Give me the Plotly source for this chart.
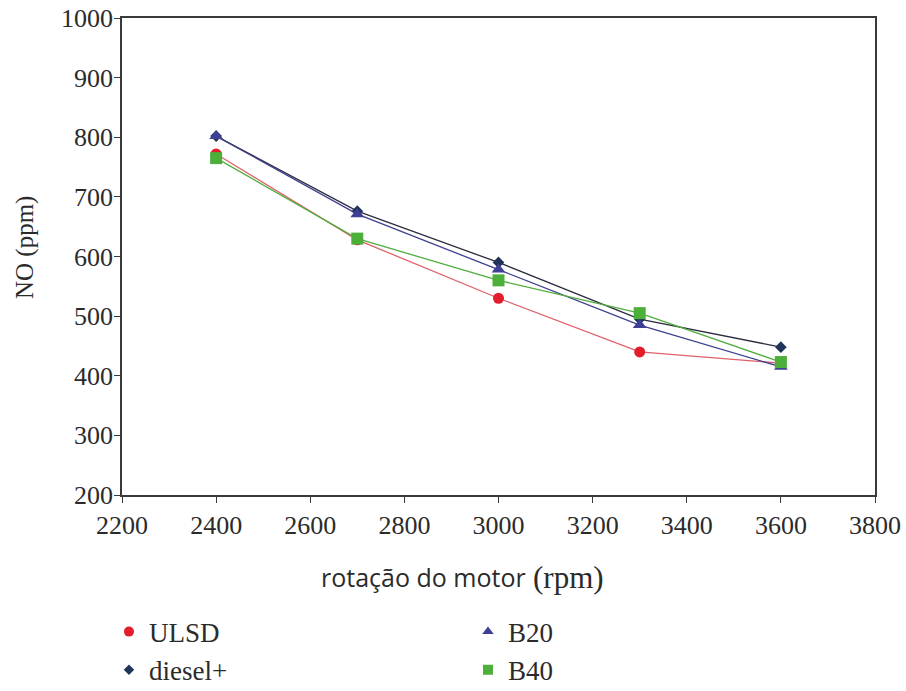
import plotly.graph_objects as go

# Engine speed (rpm)
rpm = [2400, 2700, 3000, 3300, 3600]

# NO emissions (ppm) per fuel
ulsd = [772, 628, 530, 440, 421]
diesel_plus = [802, 676, 590, 495, 448]
b20 = [802, 671, 578, 485, 415]
b40 = [765, 630, 560, 505, 423]

x_ticks = [2200, 2400, 2600, 2800, 3000, 3200, 3400, 3600, 3800]
y_ticks = [200, 300, 400, 500, 600, 700, 800, 900, 1000]

x_title_main = "rotação do motor"
x_title_unit = "(rpm)"
y_title = "NO (ppm)"

SERIF = "Liberation Serif, Times New Roman, serif"
SANS = "Open Sans, sans-serif"
TEXT = "#2b2b2b"

series = [
    # name, values, line colour, marker colour, symbol, size, legend size, legend rank
    ("ULSD", ulsd, "#e0606a", "#e31d2b", "circle", 11, 10, 1),
    ("diesel+", diesel_plus, "#2b2d3f", "#1f3558", "diamond", 9, 8, 3),
    ("B20", b20, "#3d418c", "#3e3f95", "triangle-up", 12, 10, 2),
    ("B40", b40, "#4fae3e", "#4caf3a", "square", 12, 10, 4),
]

fig = go.Figure()
for name, vals, lc, mc, sym, size, lsize, rank in series:
    fig.add_trace(go.Scatter(
        x=rpm, y=vals, name=name, mode="lines+markers",
        line=dict(color=lc, width=1.3),
        marker=dict(color=mc, symbol=sym, size=size, line=dict(width=0)),
        showlegend=False,
    ))
# legend entries show the marker only
for name, vals, lc, mc, sym, size, lsize, rank in series:
    fig.add_trace(go.Scatter(
        x=[None], y=[None], name=name, mode="markers",
        marker=dict(color=mc, symbol=sym, size=lsize, line=dict(width=0)),
        legendrank=rank, showlegend=True,
    ))

axis_common = dict(
    showline=True, linecolor="#3a3a3a", linewidth=1.6, mirror=True,
    ticks="outside", ticklen=6, tickwidth=1.3, tickcolor="#3a3a3a",
    showgrid=False, zeroline=False,
    tickfont=dict(family=SERIF, size=26, color=TEXT),
)

fig.update_xaxes(
    range=[2200, 3800], tickvals=x_ticks, ticktext=[str(v) for v in x_ticks],
    **axis_common,
)
fig.update_yaxes(
    range=[200, 1000], tickvals=y_ticks, ticktext=[str(v) for v in y_ticks],
    ticklabelstandoff=-4,
    **axis_common,
)

# axis titles: sans text with a serif unit on x, serif on y
fig.add_annotation(
    text=x_title_main, xref="paper", yref="paper", x=0.539, y=-0.172,
    xanchor="right", yanchor="middle", showarrow=False,
    font=dict(family=SANS, size=25, color=TEXT),
)
fig.add_annotation(
    text=x_title_unit, xref="paper", yref="paper", x=0.543, y=-0.172,
    xanchor="left", yanchor="middle", showarrow=False,
    font=dict(family=SERIF, size=31, color=TEXT),
)
fig.add_annotation(
    text=y_title, xref="paper", yref="paper", x=-0.128, y=0.519,
    xanchor="center", yanchor="middle", textangle=-90, showarrow=False,
    font=dict(family=SERIF, size=25, color=TEXT),
)

fig.update_layout(
    width=906, height=691,
    margin=dict(l=122, r=31, t=18, b=196, autoexpand=False),
    paper_bgcolor="white", plot_bgcolor="white",
    showlegend=True,
    legend=dict(
        orientation="h", x=-0.0173, xanchor="left", y=-0.236, yanchor="top",
        entrywidth=314, entrywidthmode="pixels",
        font=dict(family=SERIF, size=27, color=TEXT),
        bgcolor="rgba(0,0,0,0)",
    ),
)

fig.write_html("out.html")
